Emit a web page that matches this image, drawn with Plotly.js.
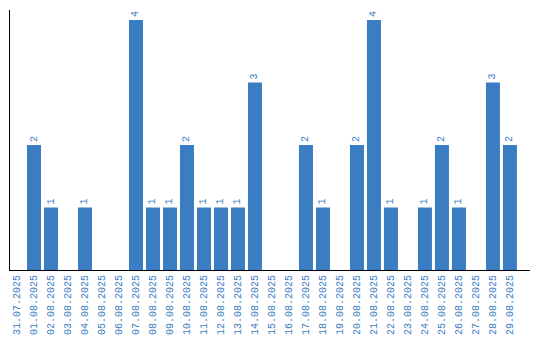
<!DOCTYPE html>
<html><head><meta charset="utf-8">
<script src="https://cdn.plot.ly/plotly-3.0.1.min.js"></script>
<style>html,body{margin:0;padding:0;background:#fff}#c{width:540px;height:340px}</style>
</head><body><div id="c"></div>
<script>
const categories = ["31.07.2025","01.08.2025","02.08.2025","03.08.2025","04.08.2025","05.08.2025","06.08.2025","07.08.2025","08.08.2025","09.08.2025","10.08.2025","11.08.2025","12.08.2025","13.08.2025","14.08.2025","15.08.2025","16.08.2025","17.08.2025","18.08.2025","19.08.2025","20.08.2025","21.08.2025","22.08.2025","23.08.2025","24.08.2025","25.08.2025","26.08.2025","27.08.2025","28.08.2025","29.08.2025"];
const counts = [0,2,1,0,1,0,0,4,1,1,2,1,1,1,3,0,0,2,1,0,2,4,1,0,1,2,1,0,3,2];
const labels = counts.map(v => v > 0 ? String(v) : "");
const blue = "#3b7dc2";
const trace = {
  type: "bar", x: categories, y: counts, text: labels,
  textposition: "outside", textangle: -90, cliponaxis: false,
  textfont: {family: "Liberation Mono", size: 10, color: blue},
  marker: {color: blue}, width: 14/17, hoverinfo: "none"
};
const layout = {
  width: 540, height: 340, margin: {l: 10, r: 10, t: 10, b: 70},
  paper_bgcolor: "#fff", plot_bgcolor: "#fff", showlegend: false,
  xaxis: {type: "category", range: [-0.412, 30.18], showline: true, linecolor: "#000", linewidth: 1,
    ticks: "", tickangle: -90, tickfont: {family: "Liberation Mono", size: 10, color: blue},
    showgrid: false, zeroline: false, fixedrange: true},
  yaxis: {range: [0, 4.16], showline: true, linecolor: "#000", linewidth: 1, showticklabels: false,
    ticks: "", showgrid: false, zeroline: false, fixedrange: true}
};
Plotly.newPlot("c", [trace], layout, {displayModeBar: false, staticPlot: true});
</script></body></html>
